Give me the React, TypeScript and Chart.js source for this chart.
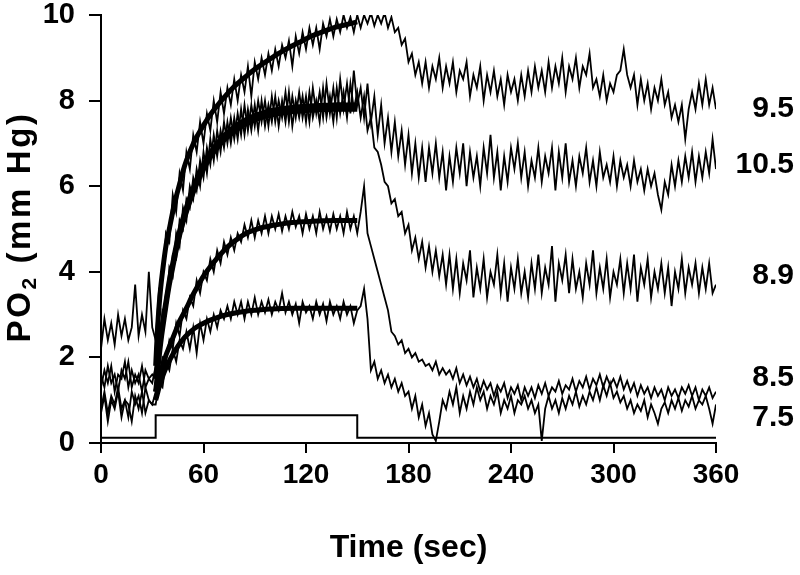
import React, { useEffect, useRef } from 'react';
import { Chart, registerables } from 'chart.js';
Chart.register(...registerables);

// ---- time grid of the noisy recordings (sec) ----
const STEP = 2;
const PRE_T0 = 0;
const ON_T0 = 32;
const POST_T0 = 152;

// ---- axis ticks and titles ----
const X_TICKS = [0, 60, 120, 180, 240, 300, 360];
const Y_TICKS = [0, 2, 4, 6, 8, 10];
const X_TITLE = 'Time (sec)';
const Y_TITLE_PARTS = ['PO', '2', ' (mm Hg)'];

// ---- trace labels at the right (value at which each label sits) ----
const LABEL_TEXT = ['9.5', '10.5', '8.9', '8.5', '7.5'];
const LABEL_Y = [7.84, 6.52, 3.93, 1.54, 0.61];

// ---- stimulus trace ----
const STIM_T = [0, 32, 32, 150, 150, 360];
const STIM_V = [0.12, 0.12, 0.65, 0.65, 0.12, 0.12];

// ---- fitted curves ----
const FIT_T = [32, 33, 34, 35, 36, 38, 40, 42, 44, 46, 48, 50, 53, 56, 60, 64, 68, 72, 76, 80, 85, 90, 95, 100, 106, 112, 118, 124, 130, 136, 142, 150];
const FIT_A = [1.8, 2.6, 3.2, 3.65, 4.0, 4.6, 5.0, 5.4, 5.75, 6.05, 6.35, 6.6, 6.9, 7.15, 7.42, 7.67, 7.88, 8.07, 8.25, 8.4, 8.57, 8.73, 8.87, 9.0, 9.15, 9.28, 9.4, 9.52, 9.61, 9.7, 9.76, 9.84];
const FIT_B1 = [1.5, 1.85, 2.2, 2.5, 2.8, 3.3, 3.8, 4.2, 4.6, 4.95, 5.25, 5.5, 5.85, 6.15, 6.5, 6.78, 7.0, 7.18, 7.32, 7.44, 7.56, 7.65, 7.72, 7.77, 7.81, 7.84, 7.86, 7.88, 7.89, 7.9, 7.9, 7.9];
const FIT_B2 = [1.2, 1.6, 2.0, 2.35, 2.65, 3.2, 3.7, 4.1, 4.5, 4.85, 5.15, 5.4, 5.75, 6.05, 6.4, 6.68, 6.9, 7.08, 7.22, 7.34, 7.46, 7.55, 7.62, 7.67, 7.71, 7.74, 7.76, 7.78, 7.79, 7.8, 7.8, 7.8];
const FIT_C = [1.2, 1.35, 1.5, 1.65, 1.8, 2.05, 2.25, 2.45, 2.65, 2.85, 3.0, 3.15, 3.4, 3.62, 3.9, 4.12, 4.32, 4.5, 4.65, 4.77, 4.9, 4.98, 5.04, 5.08, 5.12, 5.15, 5.17, 5.18, 5.19, 5.2, 5.2, 5.2];
const FIT_D = [1.0, 1.15, 1.3, 1.42, 1.55, 1.75, 1.92, 2.07, 2.2, 2.32, 2.42, 2.51, 2.62, 2.71, 2.8, 2.87, 2.93, 2.98, 3.02, 3.05, 3.08, 3.1, 3.12, 3.13, 3.14, 3.15, 3.15, 3.15, 3.15, 3.15, 3.15, 3.15];

// ---- trace "9.5" ----
const A_PRE = [2.2, 2.9, 2.4, 2.8, 2.3, 3.0, 2.5, 2.9, 2.4, 2.7, 3.7, 2.5, 3.0, 2.6, 4.0, 2.7];
const A_ON = [
  2.4, 3.6, 3.8, 4.9, 4.7, 5.8, 5.4, 6.3, 5.9, 6.8,
  6.4, 7.2, 6.8, 7.5, 7.0, 7.7, 7.3, 8.0, 7.5, 8.2,
  7.7, 8.3, 7.9, 8.5, 8.0, 8.6, 8.2, 8.8, 8.1, 8.9,
  8.5, 9.0, 8.6, 9.1, 8.7, 9.2, 8.8, 9.3, 9.0, 9.4,
  8.8, 9.5, 9.1, 9.6, 9.2, 9.7, 9.3, 9.7, 9.2, 9.8,
  9.5, 9.9, 9.5, 9.9, 9.6, 10.0, 9.7, 9.95, 9.6, 10.0,
];
const A_POST = [
  9.7, 10.0, 9.8, 10.05, 9.75, 10.0, 9.8, 10.05, 9.7, 9.95, 9.6,
  9.7, 9.3, 9.45, 8.9, 9.1, 8.6, 8.9,
  8.4, 8.9, 8.3, 8.8, 8.5, 9.0, 8.3, 8.8, 8.4, 8.9,
  8.2, 8.7, 8.5, 8.9, 8.1, 8.6, 8.3, 8.8, 8.0, 8.6,
  8.2, 8.7, 8.1, 8.5, 7.9, 8.6, 8.2, 8.5, 8.0, 8.6,
  8.1, 8.7, 8.2, 8.8, 8.3, 8.7, 8.2,
  8.9, 8.3, 8.8, 8.4, 9.0, 8.2, 8.8, 8.5, 9.0, 8.3,
  8.8, 8.6, 9.1, 8.3, 8.5, 8.1, 8.6, 8.0, 8.4, 8.2,
  8.6, 8.7, 9.2, 8.6, 8.3, 8.6, 7.9, 8.5, 8.0, 8.4,
  7.8, 8.3, 8.0, 8.5, 7.9, 8.2, 7.6, 7.9, 7.5, 7.9,
  7.1, 7.8, 8.2, 7.8, 8.4, 7.9, 8.5, 7.9, 8.3, 7.8,
];

// ---- trace "10.5" ----
const B1_PRE = [1.3, 1.7, 1.4, 1.8, 1.2, 1.6, 1.5, 1.9, 1.3, 1.7, 1.4, 1.6, 1.2, 1.7, 1.5, 1.4];
const B1_ON = [
  1.8, 2.0, 3.1, 3.0, 4.1, 3.9, 4.9, 4.6, 5.5, 5.2,
  6.0, 5.7, 6.4, 6.0, 6.8, 6.3, 7.1, 6.6, 7.3, 6.8,
  7.5, 7.0, 7.6, 7.1, 7.7, 7.2, 7.9, 7.3, 7.9, 7.4,
  8.0, 7.5, 8.0, 7.4, 8.1, 7.5, 8.0, 7.6, 8.2, 7.5,
  8.1, 7.6, 8.2, 7.6, 8.1, 7.5, 8.3, 7.7, 8.2, 7.6,
  8.4, 7.7, 8.3, 7.6, 8.5, 7.8, 8.4, 7.7, 8.7, 7.9,
];
const B1_POST = [
  8.3, 7.6, 8.4, 7.5, 8.1, 7.2, 7.9, 7.0, 7.6, 6.8, 7.5, 6.7, 7.3, 6.5, 7.2, 6.3, 7.0, 6.2, 6.9, 6.1, 6.9, 6.3, 7.0, 6.2, 6.8,
  5.9, 6.7, 6.1, 6.9, 6.3, 7.0, 6.0, 6.8, 6.2, 6.7, 6.0, 6.9, 6.3, 7.2, 6.2, 6.8, 5.9, 6.7, 6.1, 6.9, 6.4, 7.0, 6.2, 6.8, 6.0,
  6.6, 6.2, 6.9, 6.1, 6.7, 6.3, 6.9, 5.9, 6.8, 6.2, 7.0, 6.1, 6.6, 6.0, 6.7, 6.3, 6.9, 6.1, 6.6, 6.0, 6.8, 6.2, 6.5, 6.1, 6.7,
  6.0, 6.6, 6.2, 6.5, 6.0, 6.6, 6.1, 6.4, 5.9, 6.4, 6.0, 6.3, 5.8, 5.45, 6.1, 5.8, 6.5, 6.0, 6.6, 6.1, 6.7, 6.2, 6.8, 6.1, 6.7,
  6.2, 6.8, 6.3, 7.1, 6.4,
];

// ---- trace "8.9" ----
const B2_PRE = [0.8, 1.2, 0.7, 1.1, 0.9, 1.3, 0.8, 1.0, 0.6, 1.2, 0.9, 1.1, 0.7, 1.3, 1.0, 0.9];
const B2_ON = [
  1.2, 2.4, 2.6, 3.5, 3.6, 4.4, 4.3, 5.2, 5.0, 5.7,
  5.5, 6.2, 5.9, 6.6, 6.2, 6.9, 6.5, 7.2, 6.7, 7.3,
  6.9, 7.5, 7.0, 7.6, 7.1, 7.8, 7.2, 7.8, 7.3, 7.9,
  7.3, 8.0, 7.4, 7.9, 7.5, 8.1, 7.4, 8.0, 7.5, 8.2,
  7.4, 8.0, 7.6, 8.1, 7.5, 8.2, 7.6, 8.0, 7.5, 8.3,
  7.6, 8.1, 7.5, 8.3, 7.7, 8.2, 7.6, 8.4, 7.8, 8.2,
];
const B2_POST = [
  7.6, 8.1, 7.3, 7.6, 6.9, 6.8, 6.5, 6.1, 6.0, 5.6, 5.7, 5.3, 5.4, 4.9, 5.1, 4.5, 4.8, 4.3, 4.7, 4.1, 4.6, 4.0, 4.5, 3.9, 4.4,
  3.7, 4.4, 3.6, 4.3, 3.5, 4.2, 3.8, 4.5, 3.4, 4.1, 3.6, 4.3, 3.4, 4.0, 3.7, 4.4, 3.5, 4.2, 3.3, 4.1, 3.6, 4.3, 3.5, 4.0, 3.4,
  4.2, 3.6, 4.4, 3.5, 4.1, 3.7, 4.6, 3.3, 4.2, 3.8, 4.4, 3.5, 4.3, 3.6, 4.0, 3.4, 4.2, 3.7, 4.5, 3.5, 4.1, 3.6, 4.3, 3.4, 4.0,
  3.7, 4.3, 3.5, 4.2, 3.6, 4.4, 3.3, 4.1, 3.7, 4.3, 3.4, 4.0, 3.6, 4.2, 3.5, 4.1, 3.2, 4.0, 3.6, 4.3, 3.5, 4.1, 3.7, 4.2, 3.5,
  4.1, 3.6, 4.2, 3.5, 3.7,
];

// ---- trace "8.5" ----
const C_PRE = [1.6, 1.3, 1.8, 1.4, 1.6, 1.2, 1.7, 1.5, 1.9, 1.3, 1.6, 1.4, 1.8, 1.3, 1.5, 1.6];
const C_ON = [
  1.5, 1.4, 2.0, 1.9, 2.4, 2.2, 2.8, 2.5, 3.1, 2.9,
  3.4, 3.2, 3.8, 3.5, 4.0, 3.8, 4.3, 4.0, 4.5, 4.2,
  4.7, 4.4, 4.8, 4.5, 4.9, 4.7, 5.1, 4.8, 5.2, 4.8,
  5.2, 4.9, 5.3, 4.9, 5.3, 5.0, 5.35, 4.95, 5.3, 5.0,
  5.4, 5.05, 5.3, 4.9, 5.35, 5.0, 5.3, 4.9, 5.4, 5.0,
  5.3, 4.95, 5.35, 5.0, 5.3, 4.9, 5.4, 5.0, 5.3, 4.9,
];
const C_POST = [
  5.4, 6.0, 4.9, 4.6, 4.3, 4.0, 3.7, 3.4, 3.1, 2.6, 2.5, 2.3, 2.4, 2.1, 2.2, 2.0, 2.1, 1.9, 1.95, 1.8, 1.85, 1.7, 1.9, 1.6, 1.75,
  1.6, 1.7, 1.5, 1.75, 1.4, 1.6, 1.35, 1.55, 1.3, 1.5, 1.2, 1.45, 1.25, 1.4, 1.1, 1.35, 1.2, 1.4, 1.05, 1.3, 1.15, 1.35, 1.0, 1.3, 1.1,
  1.3, 1.05, 1.35, 1.15, 1.4, 1.1, 1.3, 1.2, 1.45, 1.15, 1.35, 1.25, 1.5, 1.2, 1.45, 1.3, 1.55, 1.25, 1.5, 1.35, 1.6, 1.3, 1.55, 1.35, 1.5,
  1.3, 1.55, 1.25, 1.45, 1.2, 1.4, 1.1, 1.35, 1.15, 1.3, 1.05, 1.3, 1.1, 1.25, 1.0, 1.3, 1.1, 1.25, 1.05, 1.3, 1.15, 1.35, 1.1, 1.3, 1.0,
  1.25, 1.1, 1.3, 1.05, 1.2,
];

// ---- trace "7.5" ----
const D_PRE = [0.7, 1.1, 0.5, 1.0, 0.8, 1.2, 0.6, 1.0, 0.9, 0.5, 1.1, 0.8, 1.2, 0.7, 1.0, 0.9];
const D_ON = [
  0.9, 1.4, 1.3, 1.9, 1.7, 2.2, 1.9, 2.4, 2.2, 2.6,
  2.2, 2.7, 2.1, 2.8, 2.4, 2.9, 2.6, 3.0, 2.7, 3.1,
  2.9, 3.2, 2.9, 3.3, 3.0, 3.3, 2.9, 3.3, 3.0, 3.4,
  3.0, 3.3, 3.05, 3.35, 3.0, 3.3, 3.1, 3.5, 3.05, 3.3,
  3.0, 3.25, 2.8, 3.3, 3.05, 3.2, 2.9, 3.3, 3.0, 3.25,
  2.85, 3.3, 3.0, 3.2, 2.9, 3.3, 3.0, 3.2, 2.8, 3.1,
];
const D_POST = [
  3.2, 3.6, 2.9, 1.7, 1.9, 1.5, 1.7, 1.4, 1.6, 1.3, 1.5, 1.2, 1.4, 1.1, 1.2, 0.8, 1.1, 0.6, 0.9, 0.4, 0.7, 0.2, 0.05, 0.5, 1.0,
  0.8, 1.2, 0.9, 1.3, 0.7, 1.1, 0.8, 1.2, 0.9, 1.3, 1.0, 1.2, 0.8, 1.1, 0.9, 1.2, 0.7, 1.0, 0.8, 1.1, 0.7, 1.0, 0.9, 1.1, 0.8,
  1.0, 0.7, 0.9, 0.05, 0.8, 1.1, 0.8, 1.0, 0.7, 1.05, 0.8, 1.1, 0.9, 1.2, 0.85, 1.1, 0.9, 1.2, 1.0, 1.3, 1.0, 1.35, 1.1, 1.4, 1.05,
  1.2, 0.95, 1.1, 0.8, 1.0, 0.7, 0.9, 0.75, 1.0, 0.6, 0.9, 0.7, 0.45, 0.8, 0.95, 0.7, 1.0, 0.8, 1.05, 0.75, 1.0, 0.85, 1.1, 0.8, 1.0,
  0.9, 1.1, 0.8, 0.45, 0.9,
];

const FONT = '"Liberation Sans", Arial, Helvetica, sans-serif';

function trace(pre: number[], on: number[], post: number[]) {
  return [
    ...pre.map((y, i) => ({ x: PRE_T0 + i * STEP, y })),
    ...on.map((y, i) => ({ x: ON_T0 + i * STEP, y })),
    ...post.map((y, i) => ({ x: POST_T0 + i * STEP, y })),
  ];
}
function pairs(xs: number[], ys: number[]) {
  return xs.map((x, i) => ({ x, y: ys[i] }));
}

const endLabels = {
  id: 'endLabels',
  afterDraw(chart: any) {
    const { ctx, scales } = chart;
    ctx.save();
    ctx.font = `bold 30px ${FONT}`;
    ctx.fillStyle = '#000';
    ctx.textAlign = 'right';
    ctx.textBaseline = 'middle';
    LABEL_TEXT.forEach((t, i) => {
      ctx.fillText(t, chart.width - 6, scales.y.getPixelForValue(LABEL_Y[i]) + 1);
    });
    ctx.restore();
  },
};

const yTitle = {
  id: 'yTitle',
  afterDraw(chart: any) {
    const { ctx, chartArea } = chart;
    ctx.save();
    ctx.fillStyle = '#000';
    ctx.textAlign = 'left';
    ctx.textBaseline = 'alphabetic';
    (ctx as any).letterSpacing = '2.6px';
    const fonts = [`bold 33px ${FONT}`, `bold 21px ${FONT}`, `bold 33px ${FONT}`];
    const shifts = [0, 6, 0];
    const widths = Y_TITLE_PARTS.map((p, i) => { ctx.font = fonts[i]; return ctx.measureText(p).width; });
    const total = widths.reduce((a, b) => a + b, 0);
    ctx.translate(0, (chartArea.top + chartArea.bottom) / 2 - 2);
    ctx.rotate(-Math.PI / 2);
    let x = -total / 2;
    Y_TITLE_PARTS.forEach((p, i) => {
      ctx.font = fonts[i];
      ctx.fillText(p, x, 30 + shifts[i]);
      x += widths[i];
    });
    ctx.restore();
  },
};

export default function App() {
  const ref = useRef<HTMLCanvasElement | null>(null);
  useEffect(() => {
    if (!ref.current) return;
    const noisy = (data: any[]) => ({
      data, borderColor: '#000', borderWidth: 1.8, pointRadius: 0, tension: 0, fill: false,
    });
    const fit = (data: any[]) => ({
      data, borderColor: '#000', borderWidth: 5, pointRadius: 0, tension: 0.3, fill: false,
    });
    const chart = new Chart(ref.current, {
      type: 'line',
      data: {
        datasets: [
          { data: pairs(STIM_T, STIM_V), borderColor: '#000', borderWidth: 2, pointRadius: 0, tension: 0, fill: false },
          noisy(trace(A_PRE, A_ON, A_POST)),
          noisy(trace(B1_PRE, B1_ON, B1_POST)),
          noisy(trace(B2_PRE, B2_ON, B2_POST)),
          noisy(trace(C_PRE, C_ON, C_POST)),
          noisy(trace(D_PRE, D_ON, D_POST)),
          fit(pairs(FIT_T, FIT_A)),
          fit(pairs(FIT_T, FIT_B1)),
          fit(pairs(FIT_T, FIT_B2)),
          fit(pairs(FIT_T, FIT_C)),
          fit(pairs(FIT_T, FIT_D)),
        ] as any,
      },
      options: {
        animation: false,
        responsive: false,
        devicePixelRatio: 1,
        layout: { padding: { top: 0, right: 84, bottom: 0, left: 0 } },
        plugins: { legend: { display: false }, tooltip: { enabled: false } },
        scales: {
          x: {
            type: 'linear',
            min: 0,
            max: 360,
            afterBuildTicks: (s: any) => { s.ticks = X_TICKS.map((v) => ({ value: v })); },
            afterFit: (s: any) => { s.height = 132; },
            ticks: { color: '#000', font: { family: FONT, size: 28, weight: 'bold' }, padding: 5, maxRotation: 0 },
            grid: { drawOnChartArea: false, drawTicks: true, tickLength: 10, color: '#000', lineWidth: 2 },
            border: { display: true, color: '#000', width: 2 },
            title: { display: true, text: X_TITLE, color: '#000', font: { family: FONT, size: 32, weight: 'bold' }, padding: { top: 0, bottom: 8 } },
          },
          y: {
            type: 'linear',
            min: 0,
            max: 10,
            afterBuildTicks: (s: any) => { s.ticks = Y_TICKS.map((v) => ({ value: v })); },
            afterFit: (s: any) => { s.width = 101; s.paddingTop = 15; s.paddingBottom = 0; },
            ticks: { color: '#000', font: { family: FONT, size: 29, weight: 'bold' }, padding: 14 },
            grid: { drawOnChartArea: false, drawTicks: true, tickLength: 12, color: '#000', lineWidth: 2 },
            border: { display: true, color: '#000', width: 2 },
            title: { display: false },
          },
        },
      } as any,
      plugins: [endLabels, yTitle],
    });
    return () => chart.destroy();
  }, []);
  return (
    <div style={{ position: 'fixed', left: 0, top: 0, width: 800, height: 575, background: '#fff' }}>
      <canvas ref={ref} width={800} height={575} style={{ width: 800, height: 575, display: 'block' }} />
    </div>
  );
}
